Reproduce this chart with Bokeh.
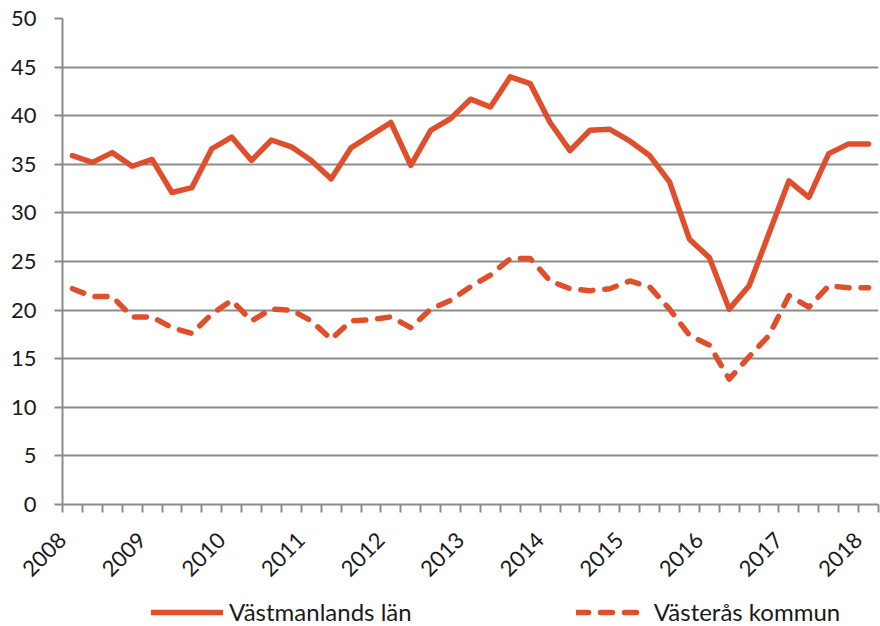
import math
from bokeh.plotting import figure
from bokeh.layouts import column
from bokeh.models import (Range1d, FixedTicker, Legend, LegendItem, ColumnDataSource)
from bokeh.embed import file_html
from bokeh.resources import INLINE

# Quarterly categories 2008 Q1 .. 2018 Q1
years = list(range(2008, 2019))
quarters = [f"{y}K{q}" for y in years for q in range(1, 5)][:41]

vastmanland = [35.9, 35.2, 36.2, 34.8, 35.5, 32.1, 32.6, 36.6, 37.8, 35.4,
               37.5, 36.8, 35.4, 33.5, 36.7, 38.0, 39.3, 34.9, 38.5, 39.7,
               41.7, 40.9, 44.0, 43.3, 39.3, 36.4, 38.5, 38.6, 37.4, 35.9,
               33.2, 27.3, 25.4, 20.1, 22.5, 27.9, 33.3, 31.6, 36.1, 37.1,
               37.1]
vasteras = [22.2, 21.4, 21.4, 19.3, 19.3, 18.2, 17.6, 19.6, 21.0, 18.9,
            20.1, 20.0, 18.9, 17.0, 18.9, 19.0, 19.3, 18.2, 20.1, 21.0,
            22.4, 23.6, 25.3, 25.3, 23.0, 22.2, 22.0, 22.2, 23.0, 22.4,
            20.1, 17.4, 16.4, 12.9, 15.2, 17.4, 21.5, 20.3, 22.5, 22.3,
            22.3]
series_names = ["Västmanlands län", "Västerås kommun"]
y_ticks = list(range(0, 55, 5))

COLOR = "#E04F2C"
GRID = "#8C8C8C"
FONT = "Lato"
LW = 5.5
DASH = "12 12"

idx = list(range(len(quarters)))
src = ColumnDataSource(dict(x=idx, a=vastmanland, b=vasteras))

p = figure(frame_width=816, frame_height=486,
           min_border_left=62, min_border_top=18, min_border_right=2,
           min_border_bottom=88,
           x_range=Range1d(-0.5, len(quarters) - 0.5),
           y_range=Range1d(0, 50),
           output_backend="svg", toolbar_location=None,
           background_fill_color="white", border_fill_color="white")
p.outline_line_color = None

p.line("x", "a", source=src, line_color=COLOR, line_width=LW,
       line_join="round", line_cap="round")
p.line("x", "b", source=src, line_color=COLOR, line_width=LW,
       line_dash=DASH, line_join="round", line_cap="round")

# x axis: tick marks at category boundaries, year labels at year boundaries
bounds = [i - 0.5 for i in range(len(quarters) + 1)]
overrides = {}
for b in bounds:
    i = int(b + 0.5)
    if i < len(quarters) and quarters[i].endswith("K1"):
        overrides[b] = quarters[i][:4]
    else:
        overrides[b] = ""
xa = p.xaxis[0]
xa.ticker = FixedTicker(ticks=bounds)
xa.major_label_overrides = overrides
xa.major_label_orientation = math.pi / 4
xa.minor_tick_line_color = None
xa.major_tick_out = 8
xa.major_tick_in = 0
xa.axis_line_color = GRID
xa.axis_line_width = 2
xa.major_tick_line_color = GRID
xa.major_tick_line_width = 2
xa.major_label_text_font = FONT
xa.major_label_text_font_size = "22px"
xa.major_label_text_color = "#1a1a1a"
xa.major_label_standoff = 24

ya = p.yaxis[0]
ya.ticker = FixedTicker(ticks=y_ticks)
ya.minor_tick_line_color = None
ya.major_tick_out = 8
ya.major_tick_in = 0
ya.axis_line_color = GRID
ya.axis_line_width = 2
ya.major_tick_line_color = GRID
ya.major_tick_line_width = 2
ya.major_label_text_font = FONT
ya.major_label_text_font_size = "22px"
ya.major_label_text_color = "#1a1a1a"
ya.major_label_standoff = 18

p.xgrid.grid_line_color = None
p.ygrid.ticker = FixedTicker(ticks=y_ticks)
p.ygrid.grid_line_color = GRID
p.ygrid.grid_line_width = 2

# legend strip below the chart (sample renderers lie outside the visible range)
lf = figure(frame_width=880, frame_height=34, min_border=0,
            x_range=Range1d(0, 1), y_range=Range1d(0, 1),
            output_backend="svg", toolbar_location=None,
            background_fill_color="white", border_fill_color="white")
lf.outline_line_color = None
lf.axis.visible = False
lf.grid.visible = False
d1 = lf.line(x=[5, 6], y=[5, 6], line_color=COLOR, line_width=LW,
             line_cap="round")
d2 = lf.line(x=[5, 6], y=[5, 6], line_color=COLOR, line_width=LW,
             line_dash=DASH, line_cap="round")
legend = Legend(items=[LegendItem(label=series_names[0], renderers=[d1]),
                       LegendItem(label=series_names[1], renderers=[d2])],
                orientation="horizontal", location=(151, 0),
                glyph_width=72, glyph_height=20, label_standoff=6,
                spacing=164, padding=2, margin=0,
                label_text_font=FONT, label_text_font_size="24px",
                label_text_color="#1a1a1a",
                border_line_color=None, background_fill_alpha=0)
lf.add_layout(legend)

layout = column(p, lf, spacing=0)
open("out.html", "w").write(file_html(layout, INLINE))
